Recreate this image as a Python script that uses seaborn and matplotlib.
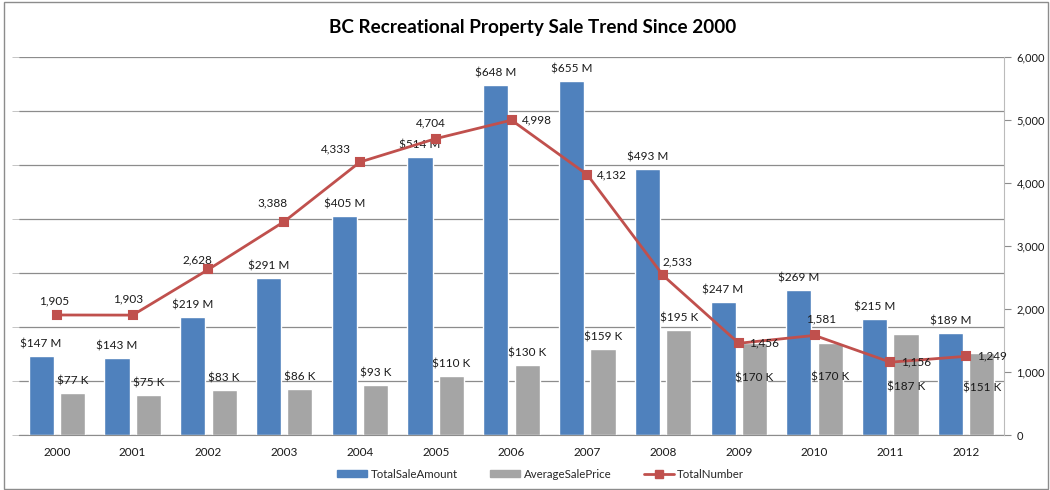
import numpy as np
import pandas as pd
import matplotlib
matplotlib.use("Agg")
import matplotlib.pyplot as plt
import seaborn as sns
from matplotlib.patches import Patch, Rectangle
from matplotlib.lines import Line2D
from matplotlib.ticker import FuncFormatter, MultipleLocator

# ---- data ----
years = ["2000", "2001", "2002", "2003", "2004", "2005", "2006",
         "2007", "2008", "2009", "2010", "2011", "2012"]
total_sale_amount = [147, 143, 219, 291, 405, 514, 648, 655, 493, 247, 269, 215, 189]   # $ M
average_sale_price = [77, 75, 83, 86, 93, 110, 130, 159, 195, 170, 170, 187, 151]       # $ K
total_number = [1905, 1903, 2628, 3388, 4333, 4704, 4998, 4132, 2533, 1456, 1581, 1156, 1249]

series_names = ["TotalSaleAmount", "AverageSalePrice", "TotalNumber"]
title = "BC Recreational Property Sale Trend Since 2000"

# ---- styling ----
BLUE, GREY, RED = "#4F81BD", "#A5A5A5", "#C0504D"
GRID = "#8C8C8C"
TXT = "#1A1A1A"
# label offsets in pixels (dx, dy upward)
avg_label_off = [(0, 12)] * 9 + [(0, -35), (0, -34), (0, -53), (0, -35)]
num_label_off = [(-3, 14), (-5, 16), (-11, 10), (-12, 19), (-24, 13), (-5, 16),
                 (25, 0), (25, 0), (14, 13), (25, 0), (7, 16), (26, 0), (26, 0)]

sns.set_style("white")
plt.rcParams["font.family"] = ["Lato", "DejaVu Sans"]

fig = plt.figure(figsize=(10.5, 4.9), dpi=100)
ax = fig.add_axes([19 / 1050, 55 / 490, 985 / 1050, 378 / 490])

df = pd.DataFrame({
    "Year": years * 2,
    "value": total_sale_amount + average_sale_price,
    "series": [series_names[0]] * len(years) + [series_names[1]] * len(years),
})
sns.barplot(data=df, x="Year", y="value", hue="series", order=years,
            hue_order=series_names[:2], palette=[BLUE, GREY],
            width=0.83, gap=0.2, ax=ax, legend=False, saturation=1)

ax.set_ylim(0, 700)
ax.set_xlim(-0.5, len(years) - 0.5)
ax.yaxis.set_major_locator(MultipleLocator(100))
ax.grid(axis="y", color=GRID, linewidth=0.9)
ax.set_axisbelow(True)
ax.set_xlabel("")
ax.set_ylabel("")
ax.tick_params(axis="y", left=True, length=5, width=0.6, color="#BBBBBB", labelleft=False)
ax.tick_params(axis="x", bottom=False, labelsize=8.5, labelcolor=TXT, pad=5)
for s in ["top", "left", "right"]:
    ax.spines[s].set_visible(False)
ax.spines["bottom"].set_color(GRID)

# bar labels
blue_bars = ax.containers[0]
grey_bars = ax.containers[1]
for bar, v in zip(blue_bars, total_sale_amount):
    ax.annotate(f"${v} M", (bar.get_x() + bar.get_width() / 2, bar.get_height()),
                xytext=(0, 12), textcoords="offset pixels", ha="center", va="center",
                fontsize=8.5, color=TXT)
for bar, v, off in zip(grey_bars, average_sale_price, avg_label_off):
    ax.annotate(f"${v} K", (bar.get_x() + bar.get_width() / 2, bar.get_height()),
                xytext=off, textcoords="offset pixels", ha="center", va="center",
                fontsize=8.5, color=TXT)

# line on secondary axis
ax2 = ax.twinx()
ldf = pd.DataFrame({"Year": years, "TotalNumber": total_number})
sns.pointplot(data=ldf, x="Year", y="TotalNumber", order=years, ax=ax2, color=RED,
              markers="s", markersize=6.0, linewidth=2.0, errorbar=None)
for line in ax2.lines:
    line.set_markeredgecolor(RED)
ax2.set_ylim(0, 6000)
ax2.set_xlim(-0.5, len(years) - 0.5)
ax2.yaxis.set_major_locator(MultipleLocator(1000))
ax2.yaxis.set_major_formatter(FuncFormatter(lambda v, p: f"{int(v):,}"))
ax2.set_ylabel("")
ax2.set_xlabel("")
ax2.grid(False)
ax2.tick_params(axis="y", right=True, length=5, width=0.8, color=GRID,
                labelsize=8.0, labelcolor=TXT, pad=4)
for s in ["top", "left", "bottom"]:
    ax2.spines[s].set_visible(False)
ax2.spines["right"].set_color("#BBBBBB")

for i, (v, off) in enumerate(zip(total_number, num_label_off)):
    ax2.annotate(f"{v:,}", (i, v), xytext=off, textcoords="offset pixels",
                 ha="center", va="center", fontsize=8.5, color=TXT)

# title
fig.text(0.507, 1 - 27 / 490, title, ha="center", va="center",
         fontsize=13.6, fontweight="bold", color="#000000")

# legend
handles = [
    Patch(facecolor=BLUE, edgecolor=BLUE),
    Patch(facecolor=GREY, edgecolor=GREY),
    Line2D([0], [0], color=RED, linewidth=2, marker="s", markersize=6.0),
]
fig.legend(handles, series_names, loc="center", bbox_to_anchor=(0.515, 1 - 474 / 490),
           ncol=3, frameon=False, fontsize=8.3, handlelength=2.6, handleheight=0.5,
           columnspacing=2.8, handletextpad=0.3)

# outer border
fig.add_artist(Rectangle((0.004, 0.002), 0.994, 0.994, transform=fig.transFigure,
                         fill=False, edgecolor="#8C8C8C", linewidth=1.0))

fig.savefig("out.png", dpi=100)
